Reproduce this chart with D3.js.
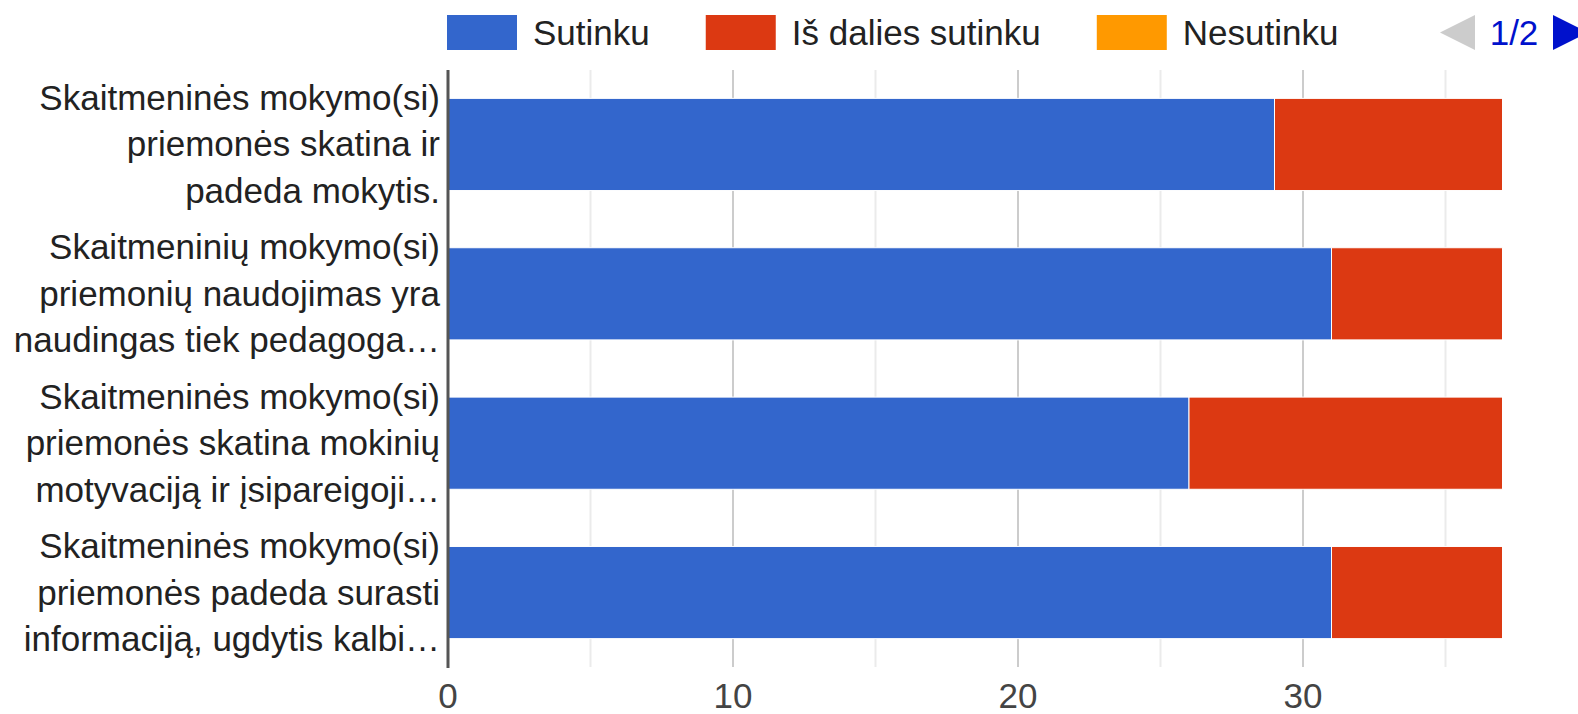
<!DOCTYPE html>
<html>
<head>
<meta charset="utf-8">
<script src="https://cdn.jsdelivr.net/npm/d3@7"></script>
<style>
  body { margin: 0; background: #fff; }
  svg { display: block; font-family: "Liberation Sans", Arial, sans-serif; }
</style>
</head>
<body>
<div id="chart"></div>
<script>
const categories = [
  ["Skaitmeninės mokymo(si)", "priemonės skatina ir", "padeda mokytis."],
  ["Skaitmeninių mokymo(si)", "priemonių naudojimas yra", "naudingas tiek pedagoga…"],
  ["Skaitmeninės mokymo(si)", "priemonės skatina mokinių", "motyvaciją ir įsipareigoji…"],
  ["Skaitmeninės mokymo(si)", "priemonės padeda surasti", "informaciją, ugdytis kalbi…"]
];
const seriesNames = ["Sutinku", "Iš dalies sutinku", "Nesutinku"];
const sutinku = [29, 31, 26, 31];
const isDaliesSutinku = [8, 6, 11, 6];
const nesutinku = [0, 0, 0, 0];
const colors = ["#3366cc", "#dc3912", "#ff9900"];
const tickValues = [0, 10, 20, 30];
const gridValues = [5, 10, 15, 20, 25, 30, 35];
const pageLabel = "1/2";

const w = 1578;
const h = 714;

const svg = d3.select("#chart")
  .append("svg")
  .attr("width", w)
  .attr("height", h);

const rows = categories.map((c, i) => ({
  idx: i,
  [seriesNames[0]]: sutinku[i],
  [seriesNames[1]]: isDaliesSutinku[i],
  [seriesNames[2]]: nesutinku[i]
}));

const stack = d3.stack().keys(seriesNames)(rows);

const x = d3.scaleLinear()
  .domain([0, 40])
  .range([448, 1588]);

const y = d3.scaleBand()
  .domain(d3.range(categories.length))
  .range([70, 667])
  .paddingInner(0.383)
  .paddingOuter(0.19);

// gridlines
svg.append("g")
  .selectAll("line")
  .data(gridValues)
  .join("line")
  .attr("x1", d => x(d))
  .attr("x2", d => x(d))
  .attr("y1", 70)
  .attr("y2", 667)
  .attr("stroke", d => d % 10 === 0 ? "#cccccc" : "#ebebeb")
  .attr("stroke-width", 2);

// bars
svg.append("g")
  .selectAll("g")
  .data(stack)
  .join("g")
  .attr("fill", (d, i) => colors[i])
  .selectAll("rect")
  .data(d => d.filter(s => s[1] > s[0]))
  .join("rect")
  .attr("x", d => x(d[0]))
  .attr("y", d => y(d.data.idx))
  .attr("width", d => x(d[1]) - x(d[0]))
  .attr("height", y.bandwidth())
  .attr("stroke", "#ffffff")
  .attr("stroke-width", 1);

// baseline
svg.append("line")
  .attr("x1", x(0))
  .attr("x2", x(0))
  .attr("y1", 70)
  .attr("y2", 668)
  .attr("stroke", "#555")
  .attr("stroke-width", 3);

// x tick labels
svg.append("g")
  .selectAll("text")
  .data(tickValues)
  .join("text")
  .attr("x", d => x(d))
  .attr("y", 708)
  .attr("text-anchor", "middle")
  .attr("font-size", 35)
  .attr("fill", "#444")
  .text(d => d);

// category labels
const lab = svg.append("g")
  .selectAll("text")
  .data(categories)
  .join("text")
  .attr("text-anchor", "end")
  .attr("font-size", 35)
  .attr("fill", "#222");

lab.selectAll("tspan")
  .data((d, i) => d.map((t, j) => ({ t, j, i, n: d.length })))
  .join("tspan")
  .attr("x", 440)
  .attr("y", d => y(d.i) + y.bandwidth() / 2 + 12 + (d.j - (d.n - 1) / 2) * 46.5)
  .text(d => d.t);

// legend
const legend = svg.append("g");
let lx = 447;
seriesNames.forEach((name, i) => {
  legend.append("rect")
    .attr("x", lx)
    .attr("y", 15)
    .attr("width", 70)
    .attr("height", 35)
    .attr("fill", colors[i]);
  const t = legend.append("text")
    .attr("x", lx + 86)
    .attr("y", 45)
    .attr("font-size", 35)
    .attr("fill", "#222")
    .text(name);
  lx = lx + 86 + t.node().getComputedTextLength() + 56;
});

// legend pager
legend.append("path")
  .attr("d", "M1440,32.5L1475,15L1475,50Z")
  .attr("fill", "#cccccc");
legend.append("text")
  .attr("x", 1514)
  .attr("y", 45)
  .attr("text-anchor", "middle")
  .attr("font-size", 35)
  .attr("fill", "#0011cc")
  .text(pageLabel);
legend.append("path")
  .attr("d", "M1553,15L1553,50L1588,32.5Z")
  .attr("fill", "#0011cc");
</script>
</body>
</html>
